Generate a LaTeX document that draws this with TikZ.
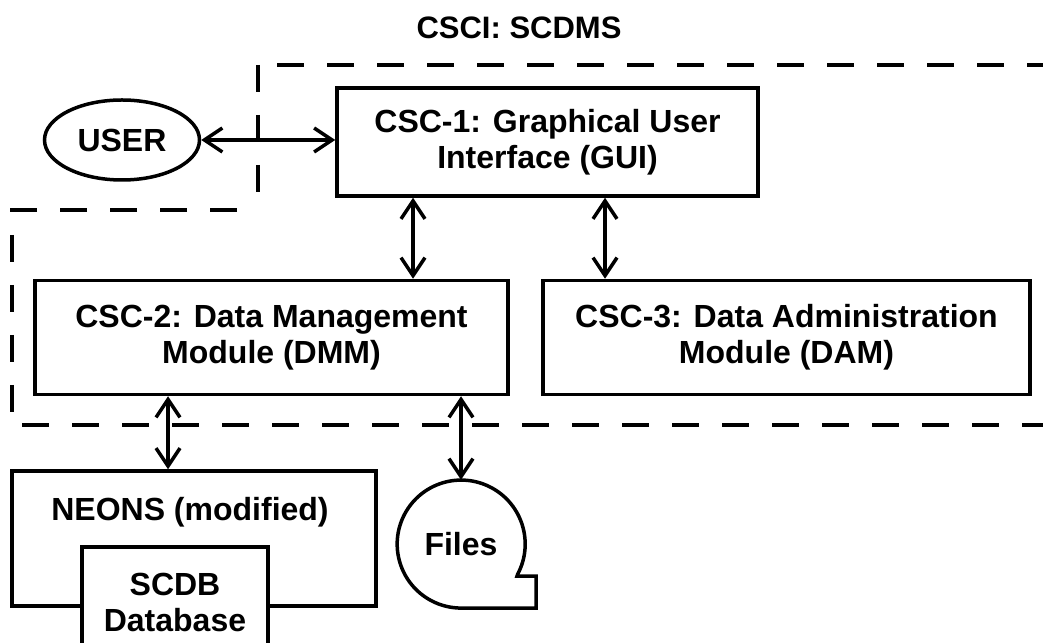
\documentclass[tikz,border=0pt]{standalone}
\usepackage{fontspec}
\setmainfont{Liberation Sans}
\usetikzlibrary{arrows.meta,shapes.geometric}
\tikzset{
  box/.style={draw, line width=3.5pt, rectangle, inner sep=0pt, align=center},
  lbl/.style={font=\bfseries\fontsize{32}{36}\selectfont, align=center},
  arr/.style={line width=3.5pt, {Straight Barb[length=18pt,width=24pt]}-{Straight Barb[length=18pt,width=24pt]}},
  bound/.style={line width=3.5pt, dash pattern=on 27pt off 23pt},
}
\begin{document}
\begin{tikzpicture}[x=1pt,y=1pt]
\useasboundingbox (0,0) rectangle (1043,642);
\fill[white] (0,0) rectangle (1043,642);
\node[font=\bfseries\fontsize{31}{34}\selectfont] (title) at (519,614) {CSCI: SCDMS};
\draw[bound] (258,577) -- (258,444);
\draw[bound] (277,577) -- (1043,577);
\draw[bound] (237,432) -- (12,432) -- (12,217) -- (1043,217);
\node[draw, ellipse, line width=3.5pt, minimum width=155pt, minimum height=80pt, inner sep=0pt, lbl] (user) at (122,502) {USER};
\node[box, lbl, minimum width=421pt, minimum height=108pt] (gui) at (547.5,500) {CSC-1: Graphical User\\Interface (GUI)};
\node[box, lbl, minimum width=473pt, minimum height=114pt] (dmm) at (271.5,304.5) {CSC-2: Data Management\\Module (DMM)};
\node[box, lbl, minimum width=487pt, minimum height=114pt] (dam) at (786.5,304.5) {CSC-3: Data Administration\\Module (DAM)};
\node[box, minimum width=364pt, minimum height=135pt] (neons) at (194,103.5) {};
\node[lbl] (neonstxt) at (190,130) {NEONS (modified)};
\node[box, fill=white, minimum width=186pt, minimum height=113pt] (scdb) at (175,38.5) {};
\node[lbl] (scdbtxt) at (175,40) {SCDB\\Database};
\node[circle, minimum size=128pt, inner sep=0pt, lbl] (files) at (461,98) {Files};
\draw[line width=3.5pt, line join=miter] (files.south) -- ++(75,0) -- ++(0,32) -- ++(-19,0) -- (files.-28)
  arc[start angle=-28, end angle=270, radius=64pt];
\coordinate (xa) at (413,0);
\coordinate (xb) at (605,0);
\coordinate (xc) at (168,0);
\coordinate (xd) at (461,0);
\draw[arr] (user.east) -- (gui.west |- user.east);
\draw[arr] (gui.south -| xa) -- (dmm.north -| xa);
\draw[arr] (gui.south -| xb) -- (dam.north -| xb);
\draw[arr] (dmm.south -| xc) -- (neons.north -| xc);
\draw[arr] (dmm.south -| xd) -- (files.north);
\end{tikzpicture}
\end{document}
